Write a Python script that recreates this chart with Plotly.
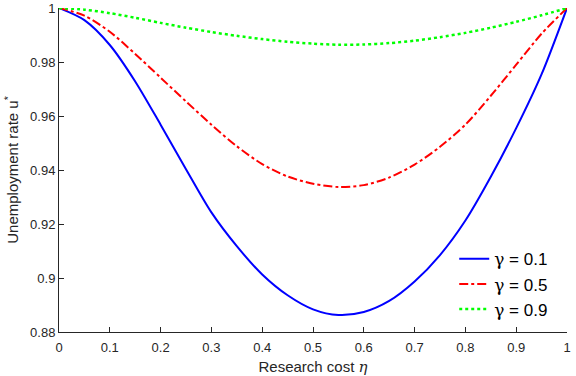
import plotly.graph_objects as go

C_BLUE = "#0000FF"
C_RED = "#FF0000"
C_GREEN = "#00FF00"
C_AXIS = "#262626"
_FONT = "Arial, Liberation Sans, sans-serif"
_SYM = "<span style=\"font-family:'DejaVu Serif', serif\">%s</span>"

# research cost eta
eta = [0.0, 0.05, 0.1, 0.15, 0.2, 0.25, 0.3, 0.35, 0.4, 0.45, 0.5,
       0.55, 0.6, 0.65, 0.7, 0.75, 0.8, 0.85, 0.9, 0.95, 1.0]

# unemployment rate u* for each gamma
u_g01 = [1.0, 0.9955, 0.9863, 0.9728, 0.9568, 0.9403, 0.9243, 0.9118, 0.9013, 0.8936, 0.8884,
         0.8863, 0.8874, 0.8915, 0.8987, 0.9085, 0.9213, 0.9375, 0.9555, 0.9755, 1.0]
u_g05 = [1.0, 0.9972, 0.9912, 0.9830, 0.9742, 0.9654, 0.9568, 0.9488, 0.9422, 0.9376, 0.9349,
         0.9337, 0.9344, 0.9372, 0.9420, 0.9486, 0.9568, 0.9675, 0.9790, 0.9905, 1.0]
u_g09 = [1.0, 0.9994, 0.9981, 0.9964, 0.9945, 0.9927, 0.9911, 0.9897, 0.9885, 0.9875, 0.9868,
         0.9864, 0.9865, 0.9870, 0.9879, 0.9892, 0.9908, 0.9927, 0.9949, 0.9973, 1.0]

gammas = ["0.1", "0.5", "0.9"]
series = [u_g01, u_g05, u_g09]
styles = [
    dict(color=C_BLUE, width=2, dash="solid"),
    dict(color=C_RED, width=2, dash="dashdot"),
    dict(color=C_GREEN, width=2.5, dash="dot"),
]

x_ticks = [0, 0.1, 0.2, 0.3, 0.4, 0.5, 0.6, 0.7, 0.8, 0.9, 1]
y_ticks = [0.88, 0.9, 0.92, 0.94, 0.96, 0.98, 1]

fig = go.Figure()
for g, ys, ln in zip(gammas, series, styles):
    fig.add_trace(go.Scatter(
        x=eta, y=ys, name=(_SYM % "γ") + " = " + g, mode="lines",
        line=dict(shape="spline", smoothing=0.8, **ln),
    ))

fig.update_layout(
    width=576, height=376,
    margin=dict(l=59, r=9, t=8, b=44),
    paper_bgcolor="#FFFFFF",
    plot_bgcolor="#FFFFFF",
    font=dict(family=_FONT, color=C_AXIS, size=13),
    showlegend=True,
    legend=dict(
        x=0.778, y=0.28, xanchor="left", yanchor="top",
        bgcolor="rgba(0,0,0,0)", borderwidth=0,
        font=dict(size=17, color="#000000", family=_FONT),
        tracegroupgap=0,
    ),
)
fig.update_xaxes(
    range=[0, 1.00001], tickvals=x_ticks,
    ticktext=[f"{v:g}" for v in x_ticks],
    automargin=False,
    showgrid=False, zeroline=False,
    showline=True, linecolor=C_AXIS, linewidth=1,
    ticks="inside", ticklen=5, tickcolor=C_AXIS,
    tickfont=dict(size=13, color=C_AXIS),
    ticklabelstandoff=3,
    title=dict(text="Research cost " + (_SYM % "<i>η</i>"),
               font=dict(size=15, color=C_AXIS), standoff=8),
)
fig.update_yaxes(
    range=[0.88, 1.00001], tickvals=y_ticks,
    ticktext=[f"{v:g}" for v in y_ticks],
    automargin=False,
    showgrid=False, zeroline=False,
    showline=True, linecolor=C_AXIS, linewidth=1,
    ticks="inside", ticklen=5, tickcolor=C_AXIS,
    tickfont=dict(size=13, color=C_AXIS),
    title=dict(text="Unemployment rate u<sup>*</sup>",
               font=dict(size=15, color=C_AXIS), standoff=7),
)

# page body has a default 8px margin; drop it so the figure fills the window
fig.write_html("out.html", config={"displayModeBar": False},
               post_script="document.body.style.margin='0';")
